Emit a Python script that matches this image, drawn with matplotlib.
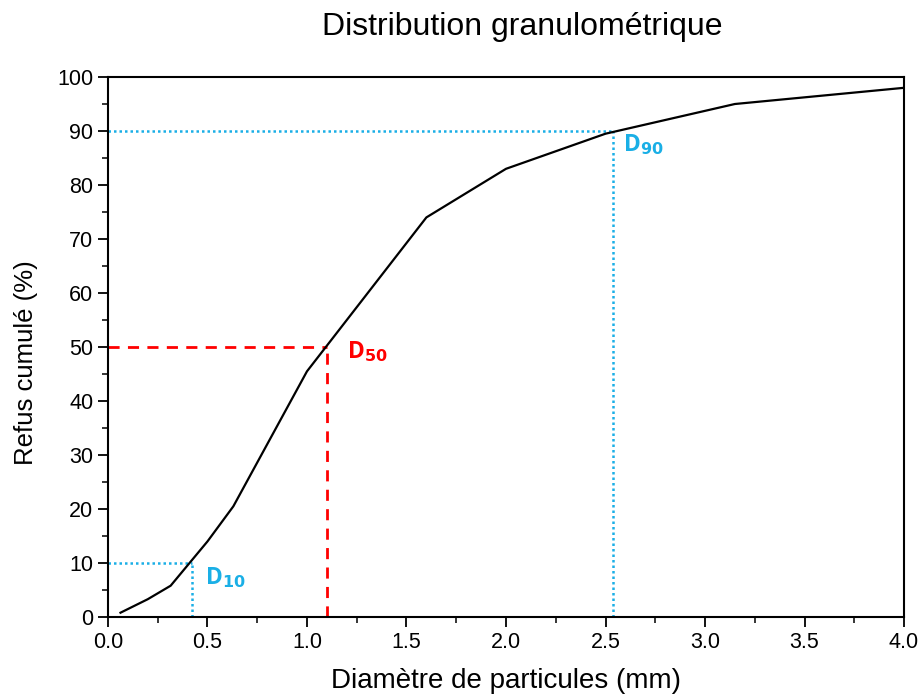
import numpy as np
import matplotlib.pyplot as plt
from matplotlib.ticker import MultipleLocator, FormatStrFormatter

# sieve openings (mm) and cumulative retained (%)
diam = [0.063, 0.2, 0.315, 0.5, 0.63, 1.0, 1.6, 2.0, 2.5, 3.15, 4.0]
refus = [0.8, 3.3, 5.8, 14.0, 20.5, 45.5, 74.0, 83.0, 89.5, 95.0, 98.0]

# characteristic diameters
d_names = ['10', '50', '90']
d_x = [0.42, 1.1, 2.54]
d_y = [10, 50, 90]
d_colors = ['#1AAFE6', '#FF0000', '#1AAFE6']
d_styles = [(0, (1, 1.2)), (0, (4, 3)), (0, (1, 1.2))]

plt.rcParams['font.family'] = ['Liberation Sans', 'DejaVu Sans']

fig = plt.figure(figsize=(9.22, 6.95), dpi=100)
ax = fig.add_axes([0.1171, 0.1122, 0.8634, 0.777])

ax.plot(diam, refus, color='black', linewidth=1.6, zorder=3)

for name, x, y, c, ls in zip(d_names, d_x, d_y, d_colors, d_styles):
    lw = 2.0 if c == '#FF0000' else 1.8
    ax.plot([0, x], [y, y], color=c, linestyle=ls, linewidth=lw, zorder=2)
    ax.plot([x, x], [0, y], color=c, linestyle=ls, linewidth=lw, zorder=2)

offsets = {'10': (0.07, -2.8), '50': (0.1, -0.8), '90': (0.05, -2.6)}
for name, x, y, c in zip(d_names, d_x, d_y, d_colors):
    dx, dy = offsets[name]
    ax.text(x + dx, y + dy, 'D$_{\\mathbf{' + name + '}}$', color=c,
            fontsize=16.5, fontweight='bold', family=['Open Sans', 'DejaVu Sans'],
            va='center', ha='left')

ax.set_xlim(0, 4.0)
ax.set_ylim(0, 100)
ax.xaxis.set_major_locator(MultipleLocator(0.5))
ax.xaxis.set_minor_locator(MultipleLocator(0.25))
ax.xaxis.set_major_formatter(FormatStrFormatter('%.1f'))
ax.yaxis.set_major_locator(MultipleLocator(10))
ax.yaxis.set_minor_locator(MultipleLocator(5))
ax.tick_params(axis='both', which='major', direction='out', length=7, width=1.3,
               labelsize=15.5, top=False, right=False)
ax.tick_params(axis='both', which='minor', direction='out', length=4, width=1.1,
               top=False, right=False)
for s in ax.spines.values():
    s.set_linewidth(1.5)

ax.set_xlabel('Diamètre de particules (mm)', fontsize=20, labelpad=11)
ax.set_ylabel('Refus cumulé (%)', fontsize=18.5)
ax.yaxis.set_label_coords(-0.088, 0.472)
ax.set_title('Distribution granulométrique', fontsize=23, pad=30, x=0.52)

fig.savefig('out.png', dpi=100)
